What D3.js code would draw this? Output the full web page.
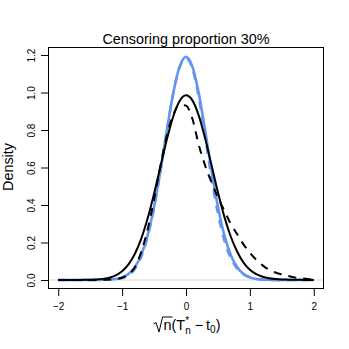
<!DOCTYPE html>
<html><head><meta charset="utf-8">
<script src="https://cdn.jsdelivr.net/npm/d3@7"></script>
<style>body{margin:0;background:#fff}svg{display:block}text{font-family:"Liberation Sans",Arial,sans-serif}</style>
</head><body>
<svg id="c" width="349" height="349"></svg>
<script>
const xGrid = [-2.0,-1.9,-1.8,-1.7,-1.6,-1.5,-1.4,-1.3,-1.2,-1.1,-1.0,-0.9,-0.8,-0.7,-0.6,-0.5,-0.4,-0.3,-0.2,-0.1,0.0,0.1,0.2,0.3,0.4,0.5,0.6,0.7,0.8,0.9,1.0,1.1,1.2,1.3,1.4,1.5,1.6,1.7,1.8,1.9,2.0];
const blueSolid = [0,0,0,0,0,0,0,0.001,0.002,0.005,0.014,0.032,0.069,0.134,0.239,0.391,0.583,0.797,0.996,1.138,1.19,1.138,0.996,0.797,0.583,0.391,0.239,0.134,0.069,0.032,0.014,0.005,0.002,0.001,0,0,0,0,0,0,0];
const blueDashed = [0,0,0,0,0,0,0,0.001,0.002,0.004,0.010,0.025,0.060,0.125,0.232,0.385,0.580,0.795,0.995,1.135,1.182,1.128,0.975,0.765,0.545,0.355,0.212,0.118,0.062,0.030,0.014,0.006,0.003,0.001,0,0,0,0,0,0,0];
const blackSolid = [0,0,0,0,0.001,0.001,0.0025,0.006,0.012,0.025,0.047,0.083,0.140,0.221,0.329,0.460,0.605,0.749,0.872,0.955,0.985,0.958,0.877,0.755,0.612,0.468,0.338,0.232,0.152,0.093,0.055,0.031,0.017,0.009,0.005,0.003,0.002,0.001,0.001,0,0];
const blackDashed = [0,0,0,0,0,0,0.001,0.001,0.002,0.005,0.012,0.030,0.068,0.150,0.270,0.430,0.610,0.770,0.880,0.935,0.930,0.860,0.720,0.610,0.520,0.440,0.370,0.300,0.245,0.190,0.145,0.108,0.078,0.055,0.040,0.030,0.021,0.014,0.009,0.005,0.003];
const xTicks = [-2,-1,0,1,2];
const yTicks = [0,0.2,0.4,0.6,0.8,1.0,1.2];
const titleText = "Censoring proportion 30%";
const yLabel = "Density";

const svg = d3.select("#c");
const L=48,R=324,T=47,B=289;
const x = d3.scaleLinear().domain([-2.16,2.16]).range([L,R]);
const y = d3.scaleLinear().domain([-0.048,1.2428]).range([B,T]);

// zero line
svg.append("line").attr("x1",L).attr("x2",R).attr("y1",y(0)).attr("y2",y(0))
  .attr("stroke","#d9d9d9").attr("stroke-width",1);

const line = d3.line().x(d=>x(d[0])).y(d=>y(d[1])).curve(d3.curveMonotoneX);
const series = [
  {v:blueSolid,c:"#6495ED",w:2.6,dash:null},
  {v:blueDashed,c:"#6495ED",w:2.6,dash:"8,7"},
  {v:blackSolid,c:"#000",w:2,dash:null},
  {v:blackDashed,c:"#000",w:2,dash:"8,7"}
];
series.forEach(s=>{
  svg.append("path").datum(xGrid.map((xv,i)=>[xv,s.v[i]]))
    .attr("d",line).attr("fill","none").attr("stroke",s.c)
    .attr("stroke-width",s.w).attr("stroke-dasharray",s.dash);
});

// box
svg.append("rect").attr("x",L+0.5).attr("y",T+0.5).attr("width",R-L-1).attr("height",B-T-1)
  .attr("fill","none").attr("stroke","#000").attr("stroke-width",1);

// axes
const gx = svg.append("g").attr("transform",`translate(0,${B})`)
  .call(d3.axisBottom(x).tickValues(xTicks).tickSize(7).tickPadding(3).tickFormat(d=>d<0?"\u2212"+Math.abs(d):d));
gx.select(".domain").remove();
gx.selectAll("line").attr("stroke","#000");
gx.selectAll("text").attr("font-size",10).attr("font-family","Liberation Sans, Arial").attr("dy",null).attr("y",21);

const gy = svg.append("g").attr("transform",`translate(${L},0)`)
  .call(d3.axisLeft(y).tickValues(yTicks).tickSize(7).tickFormat(d3.format(".1f")));
gy.select(".domain").remove();
gy.selectAll("line").attr("stroke","#000");
gy.selectAll("text").attr("font-size",10).attr("font-family","Liberation Sans, Arial")
  .attr("text-anchor","middle").attr("x",null).attr("dy",null)
  .attr("transform","translate(-13,0) rotate(-90)");

// title
svg.append("text").attr("x",186).attr("y",44).attr("text-anchor","middle")
  .attr("font-size",14.4).text(titleText);
// y label
svg.append("text").attr("transform","translate(12.5,167) rotate(-90)").attr("text-anchor","middle")
  .attr("font-size",14.4).text(yLabel);

// x label: sqrt(n)(T*_n - t_0)
const base = 330, fs = 14.4, ss = 10;
const pieces = [
  {t:"n",s:fs,dy:0,sqrt:true},
  {t:"(",s:fs,dy:0},
  {t:"T",s:fs,dy:0},
  {t:"*",s:ss,dy:-6},
  {t:"n",s:ss,dy:4,sub:true},
  {t:"\u2212",s:fs,dy:0,pre:4,post:3},
  {t:"t",s:fs,dy:0},
  {t:"0",s:ss,dy:3},
  {t:")",s:fs,dy:0}
];
const g = svg.append("g");
const radW = 10;
const widths = pieces.map(p=>{
  const t = g.append("text").attr("font-size",p.s).text(p.t);
  const w = t.node().getComputedTextLength(); t.remove(); return w;
});
let total = radW;
pieces.forEach((p,i)=>{
  total += (p.pre||0) + (p.post||0);
  if(p.sub){ total += Math.max(0,widths[i]-widths[i-1]); } else total += widths[i];
});
let cx = 187 - total/2;
const x0 = cx;
cx += radW;
let prevStart = 0;
pieces.forEach((p,i)=>{
  cx += (p.pre||0);
  let px = p.sub ? prevStart : cx;
  g.append("text").attr("x",px).attr("y",base+p.dy).attr("font-size",p.s).text(p.t);
  if(p.sqrt){
    g.append("path").attr("d",`M${x0},${base-6} L${x0+2.5},${base-7.5} L${x0+5.5},${base+2} L${x0+radW-1},${base-13} L${px+widths[i]+1},${base-13}`)
      .attr("fill","none").attr("stroke","#000").attr("stroke-width",1);
  }
  if(p.sub){ cx = Math.max(cx, px+widths[i]); }
  else { prevStart = px; cx = px + widths[i]; }
  cx += (p.post||0);
});
</script>
</body></html>
